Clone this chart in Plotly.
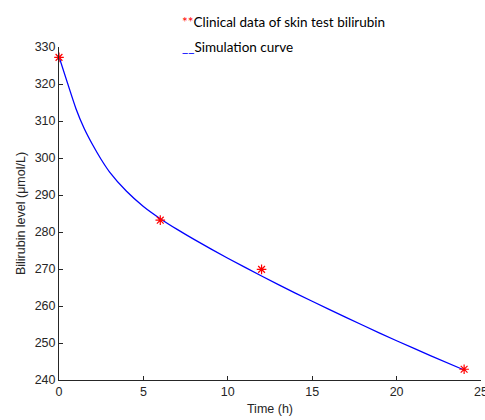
import plotly.graph_objects as go

# Clinical data (red asterisks)
clin_t = [0, 6, 12, 24]
clin_bili = [327.2, 283.2, 269.9, 242.9]

# Simulation curve
sim_t = [0, 0.5, 1.0, 1.5, 2.0, 2.5, 3.0, 4.0, 5.0, 6.0, 7.0, 8.0, 10.0, 12.0, 14.0, 16.0, 18.0, 20.0, 22.0, 24.0]
sim_bili = [327.4, 320.3, 313.4, 307.9, 303.5, 299.6, 296.2, 291.0, 286.9, 283.6, 280.7, 278.0,
            272.9, 268.1, 263.5, 259.1, 254.8, 250.6, 246.6, 242.7]

x_ticks = [0, 5, 10, 15, 20, 25]
y_ticks = [240, 250, 260, 270, 280, 290, 300, 310, 320, 330]

fig = go.Figure()
fig.add_trace(go.Scatter(x=sim_t, y=sim_bili, mode="lines",
                         line=dict(color="#0000ff", width=1.3, shape="spline", smoothing=0.6),
                         showlegend=False, cliponaxis=False))
fig.add_trace(go.Scatter(x=clin_t, y=clin_bili, mode="markers",
                         marker=dict(symbol="asterisk-open", size=8, color="#ff0000",
                                     line=dict(color="#ff0000", width=1.2)),
                         showlegend=False, cliponaxis=False))

axis_font = dict(family="Liberation Sans, Arial, sans-serif", size=12.5, color="#262626")
legend_font = dict(family="Lato, sans-serif", size=13.5, color="#000000")
fig.update_layout(
    width=485, height=420,
    margin=dict(l=59, r=4, t=47, b=40, autoexpand=False),
    paper_bgcolor="white", plot_bgcolor="white",
    showlegend=False,
    xaxis=dict(range=[0, 25], tickvals=x_ticks, ticks="inside", ticklen=4, tickcolor="#262626",
               showline=True, linecolor="#262626", linewidth=1, showgrid=False, zeroline=False,
               ticklabeloverflow="allow", automargin=False,
               tickfont=axis_font, title=dict(text="Time (h)", font=axis_font, standoff=6)),
    yaxis=dict(range=[240, 330], tickvals=y_ticks, ticks="inside", ticklen=4, tickcolor="#262626",
               showline=True, linecolor="#262626", linewidth=1, showgrid=False, zeroline=False,
               ticklabeloverflow="allow", automargin=False,
               tickfont=axis_font, title=dict(text="Bilirubin level (μmol/L)", font=axis_font, standoff=6)),
    annotations=[
        dict(text="<span style='color:#ff0000'>**</span>Clinical data of skin test bilirubin",
             xref="paper", yref="paper", x=(180 - 59) / 422, y=(380 - 22) / 333,
             xanchor="left", yanchor="middle", showarrow=False, font=legend_font),
        dict(text="<span style='color:#0000ff'>__</span>Simulation curve",
             xref="paper", yref="paper", x=(180 - 59) / 422, y=(380 - 47) / 333,
             xanchor="left", yanchor="middle", showarrow=False, font=legend_font),
    ],
)

fig.write_html("out.html")
